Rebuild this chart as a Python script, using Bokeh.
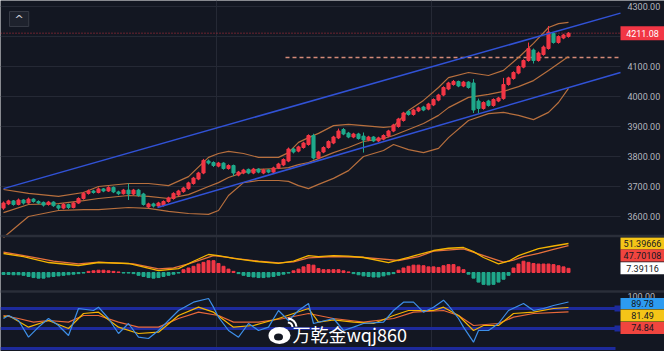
from bokeh.plotting import figure
from bokeh.models import Range1d, FixedTicker, Span, Label, ColumnDataSource, Grid
from bokeh.core.properties import value
from bokeh.embed import file_html
from bokeh.resources import INLINE

# ---------------- data ----------------
opens = [3628, 3642, 3652, 3640, 3655, 3645, 3658, 3650, 3647, 3640,
         3648, 3636, 3628, 3640, 3630, 3645, 3660, 3677, 3685, 3680,
         3692, 3685, 3697, 3682, 3676, 3688, 3675, 3688, 3675, 3632,
         3642, 3635, 3637, 3650, 3660, 3672, 3683, 3693, 3710, 3725,
         3745, 3785, 3780, 3768, 3778, 3760, 3770, 3738, 3745, 3757,
         3745, 3758, 3745, 3755, 3748, 3762, 3772, 3785, 3825, 3818,
         3830, 3840, 3870, 3795, 3815, 3830, 3845, 3862, 3890, 3878,
         3865, 3875, 3868, 3855, 3865, 3852, 3858, 3868, 3885, 3900,
         3920, 3950, 3940, 3952, 3965, 3958, 3972, 3988, 4005, 4025,
         4040, 4050, 4035, 4048, 4045, 3985, 3960, 3985, 3970, 3985,
         3993, 4040, 4060, 4078, 4098, 4120, 4155, 4120, 4140, 4160,
         4210, 4180, 4195, 4200]
highs = [3650, 3656, 3655, 3660, 3658, 3663, 3661, 3654, 3650, 3652,
         3651, 3640, 3645, 3643, 3649, 3664, 3682, 3690, 3689, 3697,
         3695, 3701, 3700, 3686, 3692, 3710, 3692, 3692, 3679, 3646,
         3646, 3649, 3654, 3666, 3681, 3689, 3699, 3716, 3732, 3749,
         3792, 3790, 3784, 3782, 3781, 3774, 3773, 3752, 3759, 3760,
         3762, 3761, 3759, 3758, 3766, 3779, 3794, 3830, 3829, 3836,
         3849, 3874, 3876, 3819, 3834, 3854, 3869, 3893, 3895, 3882,
         3879, 3879, 3880, 3869, 3868, 3866, 3874, 3889, 3909, 3929,
         3949, 3954, 3959, 3966, 3969, 3979, 3994, 4009, 4034, 4049,
         4055, 4053, 4052, 4051, 4058, 3993, 3984, 3989, 3994, 3999,
         4062, 4066, 4084, 4104, 4124, 4180, 4160, 4150, 4170, 4235,
         4215, 4204, 4209, 4215]
lows = [3622, 3638, 3636, 3637, 3640, 3642, 3646, 3641, 3633, 3636,
        3632, 3622, 3624, 3625, 3627, 3642, 3656, 3673, 3676, 3677,
        3681, 3682, 3678, 3671, 3673, 3655, 3671, 3666, 3636, 3628,
        3630, 3631, 3633, 3646, 3656, 3668, 3679, 3689, 3706, 3721,
        3741, 3773, 3765, 3764, 3756, 3756, 3735, 3734, 3741, 3741,
        3741, 3744, 3741, 3744, 3744, 3758, 3768, 3781, 3810, 3814,
        3826, 3836, 3790, 3791, 3811, 3826, 3841, 3858, 3871, 3861,
        3861, 3856, 3813, 3851, 3848, 3848, 3854, 3864, 3881, 3896,
        3916, 3936, 3936, 3948, 3951, 3954, 3968, 3984, 4001, 4021,
        4036, 4031, 4031, 4026, 3945, 3945, 3956, 3966, 3966, 3981,
        3989, 4036, 4056, 4074, 4094, 4116, 4110, 4116, 4136, 4156,
        4176, 4176, 4191, 4196]
closes = [3645, 3652, 3640, 3655, 3645, 3658, 3650, 3645, 3638, 3648,
          3636, 3628, 3640, 3630, 3645, 3660, 3677, 3685, 3680, 3692,
          3685, 3697, 3682, 3676, 3688, 3675, 3688, 3670, 3640, 3642,
          3635, 3645, 3650, 3662, 3677, 3685, 3695, 3712, 3728, 3745,
          3787, 3778, 3770, 3778, 3760, 3770, 3745, 3748, 3755, 3745,
          3758, 3748, 3755, 3748, 3762, 3775, 3790, 3825, 3815, 3832,
          3845, 3870, 3795, 3815, 3830, 3850, 3865, 3885, 3875, 3865,
          3875, 3860, 3855, 3865, 3852, 3862, 3870, 3885, 3905, 3925,
          3945, 3940, 3955, 3962, 3955, 3975, 3990, 4005, 4030, 4045,
          4050, 4035, 4048, 4030, 3955, 3960, 3980, 3970, 3990, 3995,
          4040, 4062, 4080, 4100, 4120, 4160, 4120, 4145, 4165, 4215,
          4180, 4200, 4205, 4211.08]
bar_index = list(range(len(closes)))

# Bollinger bands
bb_idx = [0, 5, 11, 16, 19, 25, 29, 33, 37, 41, 43, 45, 48, 51, 55, 57, 59, 61,
          63, 66, 69, 72, 76, 78, 81, 84, 87, 89, 93, 97, 100, 103, 106, 109, 111, 113]
bb_upper = [3690, 3677, 3667, 3680, 3700, 3710, 3710, 3703, 3733, 3797, 3810, 3817,
            3810, 3797, 3797, 3813, 3847, 3863, 3877, 3903, 3907, 3903, 3897, 3900,
            3953, 3987, 4030, 4063, 4080, 4070, 4087, 4130, 4177, 4230, 4243, 4247]
bb_mid = [3613, 3640, 3643, 3653, 3660, 3670, 3667, 3660, 3673, 3700, 3713, 3730,
          3747, 3757, 3760, 3763, 3773, 3780, 3793, 3813, 3830, 3850, 3860, 3870,
          3890, 3910, 3937, 3963, 3997, 4007, 4017, 4033, 4053, 4087, 4110, 4133]
bb_lower = [3530, 3600, 3620, 3623, 3623, 3630, 3627, 3617, 3610, 3607, 3620, 3670,
            3713, 3720, 3720, 3717, 3703, 3693, 3707, 3727, 3753, 3800, 3820, 3840,
            3823, 3813, 3827, 3863, 3920, 3943, 3947, 3937, 3923, 3947, 3980, 4027]

# trend channel anchors
chan_up_idx = [0, 123.4]
chan_up_price = [3693, 4278]
chan_lo_idx = [30.8, 123.4]
chan_lo_price = [3630, 4080]

last_price = 4211.08
level_price = 4130
level_start = 56.4

price_ticks = [3600, 3700, 3800, 3900, 4000, 4100, 4200, 4300]
session_breaks = [42.6, 85.6]

# MACD
macd_hist = [-3.5, -3.5, -4, -4, -5, -7, -9, -10, -10, -8,
             -7, -6, -5, -4, -3, -2, -1, 2, 3, 4,
             4, 3, 2, 1, -1, -1, -2, -5, -7, -9,
             -10, -9, -7, -5, -3, -1, 5, 8, 11, 15,
             18, 21, 21, 16, 11, 6, 2, -2, -5, -7,
             -8, -9, -9, -8, -7, -5, -3, -1, 3, 6,
             10, 14, 13, 7, 5, 5, 5, 5, 3, 1,
             -2, -4, -6, -7, -8, -8, -6, -4, -2, 4,
             8, 11, 13, 13, 12, 10, 10, 9, 12, 14,
             14, 10, 5, -3, -10, -17, -21, -22, -21, -17,
             -12, -5, 8, 15, 20, 18, 16, 15, 15, 15,
             14, 12, 10, 7.39116]
dif_idx = [0, 4, 9, 15, 19, 25, 31, 35, 38, 41, 43, 46, 50, 55, 58, 61, 63, 66,
           69, 72, 77, 81, 86, 89, 92, 94, 96, 99, 101, 103, 107, 110, 113]
dif_vals = [33.7, 28, 17.7, 12.4, 17.7, 16, 3.5, 7, 20, 31.9, 30, 25, 20, 16, 20,
            30, 28, 30, 29, 26.6, 17.7, 27, 39, 43, 44.3, 37, 26.6, 15.4, 20, 30,
            42.5, 47, 51.39666]
dea_idx = [0, 6, 10, 15, 19, 26, 31, 34, 37, 42, 45, 47, 51, 55, 58, 61, 66, 72,
           79, 83, 86, 92, 95, 98, 100, 102, 104, 107, 110, 113]
dea_vals = [36, 27, 20, 15.4, 18.3, 15.4, 6.5, 8, 15.4, 30, 27, 24.3, 20, 17.2, 19,
            26, 28.4, 27, 21.3, 28, 37.8, 42, 33, 24.3, 18.3, 22, 28, 34, 41, 47.70108]

# KDJ
j_idx = [0, 1, 3, 5, 7, 9, 11, 13, 15, 18, 19, 21, 23, 25, 27, 29, 31, 33, 35, 38,
         41, 42, 43, 45, 47, 49, 51, 53, 55, 57, 59, 61, 62, 66, 68, 70, 72, 76, 78,
         80, 82, 84, 86, 88, 89, 91, 92, 94, 95, 97, 99, 101, 104, 106, 108, 110, 113]
j_vals = [65, 69.5, 62, 37, 52, 65, 54.5, 39.5, 80, 77, 82, 65, 42.5, 57.5, 37, 35,
          47, 62, 77, 89.5, 95, 82, 67, 47, 37, 57.5, 47, 52, 77, 62, 77, 87.5, 57.5,
          65, 47, 52, 57.5, 59.5, 77, 89.5, 89.5, 74.5, 82, 92.5, 84.5, 65, 52, 29.5,
          47, 47, 57.5, 77, 87.5, 77, 80, 84.5, 89.78]
k_idx = [0, 1, 5, 9, 13, 16, 19, 23, 27, 31, 35, 39, 42, 46, 50, 55, 61, 63, 66,
         70, 74, 78, 81, 86, 88, 91, 94, 96, 99, 102, 106, 110, 113]
k_vals = [67, 69.5, 52, 62, 50, 72.5, 74.5, 52, 42.5, 44.5, 69.5, 82, 74.5, 52,
          54.5, 65, 80, 59.5, 63, 59.5, 57.5, 69.5, 77, 77, 82, 69.5, 47, 54.5,
          54.5, 72.5, 74.5, 80, 81.49]
d_idx = [0, 3, 6, 9, 13, 16, 19, 23, 27, 31, 35, 39, 43, 46, 51, 56, 61, 66, 72,
         78, 82, 88, 91, 94, 99, 102, 106, 113]
d_vals = [69.5, 65, 59.5, 62, 59.5, 69.5, 69.5, 59.5, 52, 52, 65, 74.5, 69.5, 59.5,
          59.5, 65, 72.5, 65, 59.5, 65, 74.5, 77, 69.5, 54.5, 57.5, 67, 72.5, 74.84]
kdj_levels = [80, 50, 20]
kdj_top_tick = 100

# ---------------- styles / geometry ----------------
BG = "#131722"
GRID = "#252935"
UP = "#f23645"
DOWN = "#1fa88b"
BB = "#c0743f"
CHAN = "#3152d6"
AXIS_TXT = "#b2b5be"
FONT = "Roboto"
H = 351

RANGES = {"default": (3150.0, 4320.0), "macd": (-140.07, 482.27), "kdj": (15.5, 542.0)}
X0, X1 = -0.6, 132.2          # full 664 px width, 5 px per bar
PLOT_END = 123.4              # right edge of the chart area (x = 620 px)


def x_at_px(px):
    return X0 + px * (X1 - X0) / 664.0


def to_px(v, rng):
    lo, hi = RANGES[rng]
    return (hi - v) / (hi - lo) * H


def from_px(px, rng):
    lo, hi = RANGES[rng]
    return hi - px * (hi - lo) / H


p = figure(width=664, height=351, output_backend="svg", toolbar_location=None,
           title=None, x_range=Range1d(X0, X1), y_range=Range1d(*RANGES["default"]),
           x_axis_location=None, y_axis_location=None,
           background_fill_color=BG, border_fill_color=BG, outline_line_color=None,
           min_border_left=0, min_border_right=0, min_border_top=0, min_border_bottom=0)
p.extra_y_ranges = {"macd": Range1d(*RANGES["macd"]), "kdj": Range1d(*RANGES["kdj"])}

for g in p.grid:
    g.visible = False
p.add_layout(Grid(dimension=0, ticker=FixedTicker(ticks=session_breaks),
                  grid_line_color=GRID, grid_line_width=1))
p.add_layout(Grid(dimension=1, ticker=FixedTicker(ticks=price_ticks),
                  cross_bounds=(X0, PLOT_END), grid_line_color=GRID, grid_line_width=1))

# KDJ level bands
for lv in kdj_levels:
    p.line([X0, x_at_px(615)], [lv, lv], y_range_name="kdj",
           line_color="#1d2a9c", line_width=3)
p.scatter([x_at_px(617)] * 2, kdj_levels[:2], y_range_name="kdj", marker="square",
          size=6, fill_color="#1d2a9c", line_color=None)

# current price dotted line and horizontal level
p.line([X0, PLOT_END], [last_price, last_price], line_color=UP, line_alpha=0.8,
       line_dash="1 2", line_width=1)
p.line([level_start, PLOT_END], [level_price, level_price], line_color="#d58a78",
       line_dash="4 3", line_width=1.5)

# Bollinger bands
for band in (bb_upper, bb_mid, bb_lower):
    p.line(bb_idx, band, line_color=BB, line_width=1.2, line_alpha=0.95)

# candles
colors = [UP if c >= o else DOWN for o, c in zip(opens, closes)]
src = ColumnDataSource(dict(x=bar_index, o=opens, h=highs, l=lows, c=closes,
                            top=[max(o, c) for o, c in zip(opens, closes)],
                            bot=[min(o, c) for o, c in zip(opens, closes)],
                            col=colors))
p.segment(x0="x", y0="l", x1="x", y1="h", source=src, line_color="col", line_width=1)
p.vbar(x="x", width=0.62, top="top", bottom="bot", source=src,
       fill_color="col", line_color="col")

# trend channel
p.line(chan_up_idx, chan_up_price, line_color=CHAN, line_width=1.5)
p.line(chan_lo_idx, chan_lo_price, line_color=CHAN, line_width=1.5)

# MACD
hsrc = ColumnDataSource(dict(x=bar_index, top=macd_hist,
                             col=[UP if v >= 0 else DOWN for v in macd_hist]))
p.vbar(x="x", width=0.6, top="top", bottom=0, source=hsrc, y_range_name="macd",
       fill_color="col", line_color="col")
p.line(dea_idx, dea_vals, y_range_name="macd", line_color="#e8713c", line_width=1.3)
p.line(dif_idx, dif_vals, y_range_name="macd", line_color="#f5b400", line_width=1.3)

# KDJ lines
p.line(d_idx, d_vals, y_range_name="kdj", line_color="#e8683a", line_width=1.2)
p.line(k_idx, k_vals, y_range_name="kdj", line_color="#f5b400", line_width=1.2)
p.line(j_idx, j_vals, y_range_name="kdj", line_color="#3d8fe8", line_width=1.2)

# price scale labels (right side)
p.text(x=[x_at_px(627)] * len(price_ticks), y=price_ticks,
       text=["%.2f" % t for t in price_ticks], text_align="left",
       text_baseline="middle", text_font=value(FONT), text_font_size="9px",
       text_color=AXIS_TXT)
p.text(x=[x_at_px(627)], y=[kdj_top_tick], y_range_name="kdj", y_offset=1,
       text=["%.2f" % kdj_top_tick], text_align="left", text_baseline="middle",
       text_font=value(FONT), text_font_size="9px", text_color=AXIS_TXT)

# panel separators
for px in (235.5, 291.0):
    p.add_layout(Span(location=from_px(px, "default"), dimension="width",
                      line_color="#2a2e39", line_width=2.5))


def tag(text, v, bg, fg, rng="default", dpx=0, h=12):
    yc = from_px(to_px(v, rng) + dpx, rng)
    xc = x_at_px(642)
    p.rect(x=[xc], y=[yc], width=44, height=h, width_units="screen",
           height_units="screen", fill_color=bg, line_color=None, y_range_name=rng)
    p.text(x=[xc], y=[yc], text=[text], y_range_name=rng, text_align="center",
           text_baseline="middle", text_font=value(FONT), text_font_size="9px",
           text_color=fg)


tag("%.2f" % last_price, last_price, UP, "white", h=14)
tag("%.5f" % dif_vals[-1], dif_vals[-1], "#f5c518", "#131722", rng="macd")
tag("%.5f" % dea_vals[-1], dea_vals[-1], "#f0453f", "#131722", rng="macd", dpx=10)
tag("%.5f" % macd_hist[-1], macd_hist[-1], "#ffffff", "#131722", rng="macd")
tag("%.2f" % j_vals[-1], j_vals[-1], "#2d9bf0", "#131722", rng="kdj", dpx=1.5, h=11)
tag("%.2f" % k_vals[-1], k_vals[-1], "#f5c518", "#131722", rng="kdj", dpx=8)
tag("%.2f" % d_vals[-1], d_vals[-1], "#f0453f", "#131722", rng="kdj", dpx=16)

# top-left collapse button
p.add_layout(Label(x=9, x_units="screen", y=from_px(18.5, "default"), text="^",
                   text_font="DejaVu Sans", text_font_size="11px", text_color="#d1d4dc",
                   text_baseline="middle", background_fill_color="#1e222d",
                   border_line_color="#363a45", padding=dict(left=5, right=5, top=1, bottom=1)))

# watermark (weibo-like logo + text)
p.ellipse(x=x_at_px(279), y=from_px(335, "kdj"), width=22, height=17, width_units="screen",
          height_units="screen", fill_color="white", line_color=None, y_range_name="kdj")
p.ellipse(x=x_at_px(278), y=from_px(336.5, "kdj"), width=9, height=7, width_units="screen",
          height_units="screen", fill_color=BG, line_color=None, y_range_name="kdj")
for r in (5, 9):
    p.arc(x=x_at_px(287), y=from_px(327, "kdj"), radius=r, radius_units="screen",
          start_angle=0.1, end_angle=1.5, line_color="white", line_width=2,
          y_range_name="kdj")
p.text(x=[x_at_px(292)], y=[from_px(333.5, "kdj")], y_range_name="kdj",
       text=["万乾金wqj860"], text_font=value("Noto Sans CJK SC"),
       text_font_size="18px", text_color="white", text_baseline="middle")

open("out.html", "w").write(file_html(p, INLINE))
